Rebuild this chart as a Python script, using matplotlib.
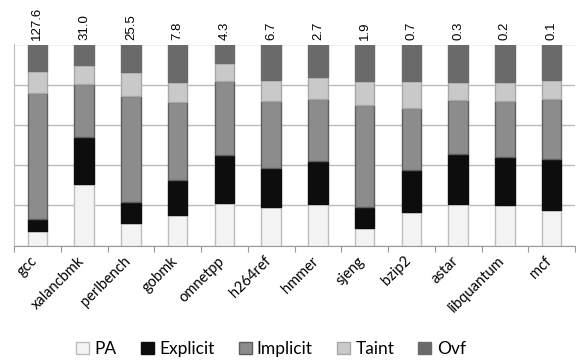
import numpy as np
import matplotlib
matplotlib.use('Agg')
import matplotlib.pyplot as plt
from matplotlib.transforms import offset_copy

benchmarks = ['gcc', 'xalancbmk', 'perlbench', 'gobmk', 'omnetpp', 'h264ref',
              'hmmer', 'sjeng', 'bzip2', 'astar', 'libquantum', 'mcf']
totals = ['127.6', '31.0', '25.5', '7.8', '4.3', '6.7',
          '2.7', '1.9', '0.7', '0.3', '0.2', '0.1']

# percentage breakdown per benchmark
pa       = [7.1, 30.7, 11.1, 15.3, 21.2, 19.4, 20.4, 8.5, 16.6, 20.7, 20.2, 17.8]
explicit = [6.2, 23.5, 10.4, 17.1, 23.9, 19.3, 21.5, 10.9, 21.1, 25.0, 24.0, 25.0]
implicit = [62.5, 26.2, 52.7, 39.0, 36.6, 33.1, 30.8, 50.7, 30.6, 26.5, 27.5, 30.3]
taint    = [10.8, 9.5, 11.9, 10.0, 9.2, 10.3, 10.9, 11.9, 13.3, 9.2, 9.7, 9.1]
ovf      = [13.4, 10.1, 13.8, 18.7, 9.1, 17.9, 16.3, 17.9, 18.4, 18.6, 18.6, 17.8]

series = [('PA', pa, '#f3f3f3', '#bdbdbd'),
          ('Explicit', explicit, '#0d0d0d', '#0d0d0d'),
          ('Implicit', implicit, '#8c8c8c', '#5e5e5e'),
          ('Taint', taint, '#c9c9c9', '#a8a8a8'),
          ('Ovf', ovf, '#6a6a6a', '#6a6a6a')]

fig = plt.figure(figsize=(5.76, 3.63), dpi=100)
ax = fig.add_axes([14/576, 1-245.5/363, 561/576, 201/363])

x = np.arange(len(benchmarks))
bottom = np.zeros(len(benchmarks))
for name, vals, fc, ec in series:
    ax.bar(x, vals, 0.42, bottom=bottom, color=fc, edgecolor=ec,
           linewidth=1, label=name, zorder=3)
    bottom += np.array(vals)

ax.set_xlim(-0.5, len(benchmarks) - 0.5)
ax.set_ylim(0, 100)
ax.set_yticks(np.arange(0, 101, 20))
ax.set_yticklabels([])
ax.tick_params(axis='y', length=0)
ax.yaxis.grid(True, color='#bcbcbc', linewidth=1, zorder=0)

# boundary ticks between categories, labels drawn by hand at 45 degrees
ax.set_xticks(np.arange(-0.5, len(benchmarks)))
ax.set_xticklabels([])
ax.tick_params(axis='x', length=4, color='#999999')
lab_trans = offset_copy(ax.get_xaxis_transform(), fig=fig, x=2, y=-6,
                        units='points')
for i, b in enumerate(benchmarks):
    ax.text(x[i], 0, b, transform=lab_trans, rotation=45, ha='right',
            va='top', fontsize=10.5, family='Lato')

for s in ['top', 'right']:
    ax.spines[s].set_visible(False)
ax.spines['left'].set_color('#bcbcbc')
ax.spines['bottom'].set_color('#999999')

for i, t in enumerate(totals):
    ax.text(x[i], 102, t, rotation=90, ha='center', va='bottom',
            fontsize=9.5, family='Liberation Sans')

fig.legend(loc='center', bbox_to_anchor=(271/576, 1-349/363), ncol=5,
           frameon=False, prop={'family': 'Lato', 'size': 12.5},
           handlelength=0.75, handleheight=0.75, handletextpad=0.3,
           columnspacing=1.4)

fig.savefig('out.png', dpi=100)
